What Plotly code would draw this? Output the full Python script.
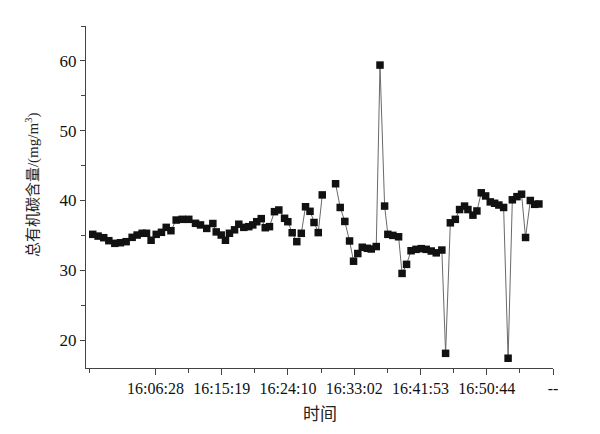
import plotly.graph_objects as go

# ---- data ----
times = [
    "15:58:05", "15:58:48", "15:59:33", "16:00:14", "16:01:02", "16:01:47", "16:02:33", "16:03:21",
    "16:04:01", "16:04:41", "16:05:16", "16:05:53", "16:06:34", "16:07:16", "16:07:54", "16:08:32",
    "16:09:14", "16:10:02", "16:10:55", "16:11:49", "16:12:29", "16:13:19", "16:14:08", "16:14:35",
    "16:15:15", "16:15:49", "16:16:21", "16:17:02", "16:17:36", "16:18:16", "16:18:56", "16:19:28",
    "16:20:00", "16:20:36", "16:21:08", "16:21:42", "16:22:22", "16:22:57", "16:23:43", "16:24:09",
    "16:24:44", "16:25:21", "16:25:57", "16:26:31", "16:27:07", "16:27:39", "16:28:13", "16:28:45",
    "16:29:35",
    "16:30:32", "16:31:09", "16:31:46", "16:32:24", "16:32:56", "16:33:30", "16:34:06", "16:34:46",
    "16:35:18", "16:35:58", "16:36:28", "16:37:05", "16:37:31", "16:38:11", "16:38:57", "16:39:25",
    "16:40:01", "16:40:37", "16:41:17", "16:41:59", "16:42:39", "16:43:19", "16:43:59", "16:44:44",
    "16:45:14", "16:45:52", "16:46:32", "16:47:06", "16:47:46", "16:48:13", "16:48:53", "16:49:25",
    "16:50:00", "16:50:35", "16:51:12", "16:51:47", "16:52:21", "16:52:59", "16:53:35", "16:54:09",
    "16:54:46", "16:55:23", "16:55:55", "16:56:33", "16:57:08", "16:57:42",
]
toc = [
    35.15, 34.9, 34.67, 34.24, 33.86, 33.95, 34.1, 34.72,
    35.05, 35.3, 35.3, 34.3, 35.15, 35.44, 36.15, 35.67,
    37.2, 37.3, 37.3, 36.73, 36.5, 36.0, 36.7, 35.5,
    35.05, 34.3, 35.3, 35.8, 36.6, 36.15, 36.25, 36.5,
    36.96, 37.4, 36.1, 36.25, 38.4, 38.64, 37.45, 36.96,
    35.38, 34.1, 35.3, 39.1, 38.45, 36.85, 35.4, 40.8,
    None,
    42.4, 39.0, 37.0, 34.2, 31.3, 32.4, 33.3, 33.15,
    33.05, 33.4, 59.4, 39.2, 35.15, 35.0, 34.8, 29.55,
    30.85, 32.8, 33.0, 33.1, 33.0, 32.76, 32.5, 32.9,
    18.1, 36.8, 37.3, 38.7, 39.2, 38.7, 37.9, 38.5,
    41.1, 40.65, 39.8, 39.6, 39.35, 39.0, 17.4, 40.1,
    40.55, 40.9, 34.7, 40.0, 39.45, 39.5,
]
tick_times = ["16:06:28", "16:15:19", "16:24:10", "16:33:02", "16:41:53", "16:50:44", "16:59:35"]
tick_labels = ["16:06:28", "16:15:19", "16:24:10", "16:33:02", "16:41:53", "16:50:44", "--"]
first_minor = "15:57:37"
x_title = "时间"
y_title = "总有机碳含量/(mg/m<sup>3</sup>)"


def to_sec(t):
    h, m, s = (int(v) for v in t.split(":"))
    return h * 3600 + m * 60 + s


xs = [to_sec(t) for t in times]
tvals = [to_sec(t) for t in tick_times]
t_first = to_sec(first_minor)
minor_vals = [t_first] + [(a + b) / 2 for a, b in zip(tvals[:-1], tvals[1:])]

serif = "Liberation Serif, Times New Roman, serif"
cjk = "Liberation Serif, Noto Sans CJK SC, serif"

fig = go.Figure()
fig.add_trace(go.Scatter(
    x=xs, y=toc, mode="lines+markers",
    line=dict(color="#6a6a6a", width=1),
    marker=dict(symbol="square", size=7.5, color="#111111"),
    connectgaps=False,
    showlegend=False,
))

axis_col = "#444444"
fig.update_layout(
    width=592, height=426,
    margin=dict(l=78, r=47, t=18, b=66),
    paper_bgcolor="white", plot_bgcolor="white",
    xaxis=dict(
        range=[t_first - 26, tvals[-1]],
        tickmode="array", tickvals=tvals, ticktext=tick_labels,
        ticks="outside", ticklen=6, tickwidth=1, tickcolor=axis_col,
        minor=dict(tickmode="array", tickvals=minor_vals, ticks="outside",
                   ticklen=4, tickwidth=1, tickcolor=axis_col),
        showline=True, linecolor=axis_col, linewidth=1,
        showgrid=False, zeroline=False,
        tickfont=dict(family=serif, size=16, color="#111111"),
    ),
    yaxis=dict(
        range=[16, 65],
        tickmode="linear", tick0=20, dtick=10,
        ticks="outside", ticklen=5, tickwidth=1, tickcolor=axis_col,
        minor=dict(dtick=5, tick0=20, ticks="outside", ticklen=4,
                   tickwidth=1, tickcolor=axis_col),
        showline=True, linecolor=axis_col, linewidth=1,
        showgrid=False, zeroline=False,
        tickfont=dict(family=serif, size=17, color="#111111"),
    ),
    annotations=[
        dict(text=x_title, xref="paper", yref="paper", x=0.5, y=-0.137,
             xanchor="center", yanchor="middle", showarrow=False,
             font=dict(family=cjk, size=17, color="#222222")),
        dict(text=y_title, xref="paper", yref="paper", x=-0.1156, y=0.535,
             xanchor="center", yanchor="middle", textangle=-90, showarrow=False,
             font=dict(family=cjk, size=15, color="#222222")),
    ],
)

fig.write_html("out.html")
